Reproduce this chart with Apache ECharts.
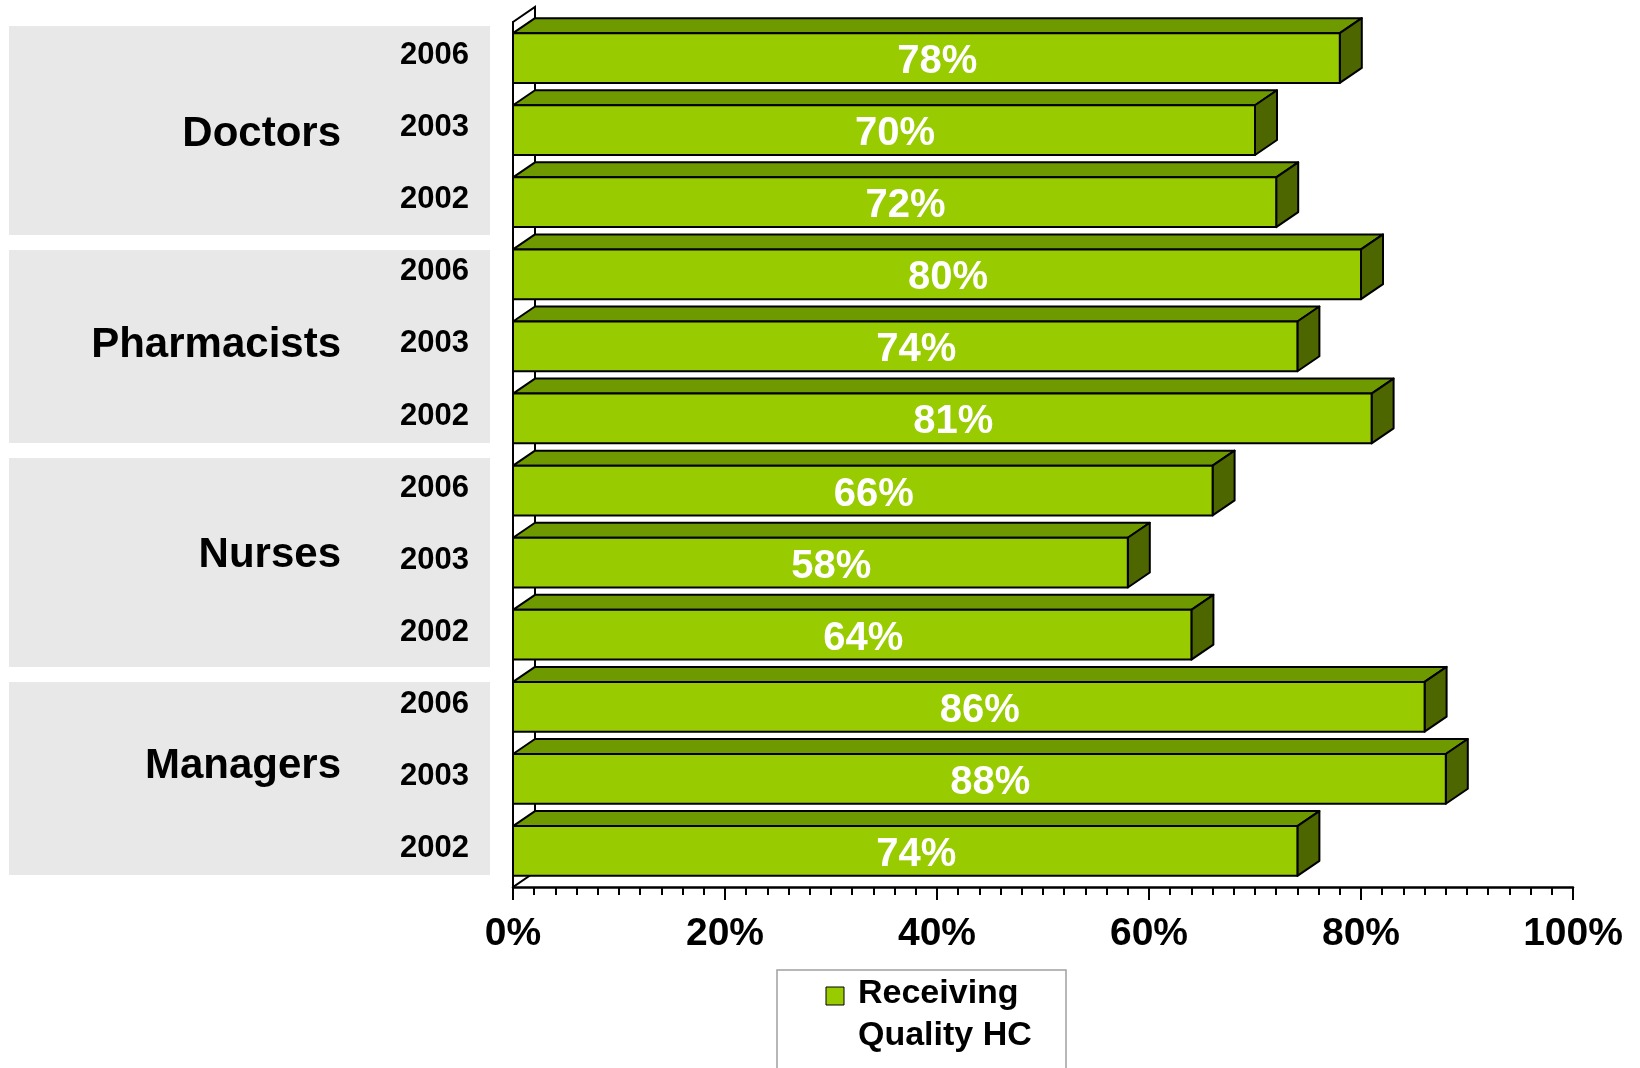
<!DOCTYPE html>
<html>
<head>
<meta charset="utf-8">
<script src="https://cdn.jsdelivr.net/npm/echarts@6/dist/echarts.min.js"></script>
<style>
  html, body { margin: 0; padding: 0; background: #ffffff; }
  #chart { width: 1640px; height: 1068px; }
</style>
</head>
<body>
<div id="chart"></div>
<script>
// Survey groups and years, listed top to bottom
const groups = ['Doctors', 'Pharmacists', 'Nurses', 'Managers'];
const years = ['2006', '2003', '2002'];

// Share receiving quality health care (%), one value per year above
const doctors = [78, 70, 72];
const pharmacists = [80, 74, 81];
const nurses = [66, 58, 64];
const managers = [86, 88, 74];

const seriesName = 'Receiving Quality HC';
const legendText = 'Receiving\nQuality HC';

// Flatten into one row per group/year
const rows = [];
const barData = [];
[doctors, pharmacists, nurses, managers].forEach(function (arr, gi) {
  arr.forEach(function (v, yi) {
    rows.push(groups[gi] + '|' + years[yi]);
    barData.push([v, rows.length - 1]);
  });
});

const FONT = '"Liberation Sans", Arial, Helvetica, sans-serif';
const DX = 22, DY = 15;              // depth offset of the 3D boxes
const FRONT = '#99CC00', TOP = '#6E9A00', SIDE = '#4D6600';

// Bars drawn as extruded boxes: top face, end face, front face, value label
function renderBar(params, api) {
  const val = api.value(0);
  const idx = api.value(1);
  const p0 = api.coord([0, idx]);
  const p1 = api.coord([val, idx]);
  const band = api.size([0, 1])[1];
  const h = band * 0.69;
  const x0 = p0[0], x1 = p1[0];
  const top = p0[1] - h / 2, bot = p0[1] + h / 2;
  const edge = { stroke: '#000', lineWidth: 2, lineJoin: 'round' };
  return {
    type: 'group',
    children: [
      { type: 'polygon', shape: { points: [[x0, top], [x0 + DX, top - DY], [x1 + DX, top - DY], [x1, top]] },
        style: Object.assign({ fill: TOP }, edge) },
      { type: 'polygon', shape: { points: [[x1, top], [x1 + DX, top - DY], [x1 + DX, bot - DY], [x1, bot]] },
        style: Object.assign({ fill: SIDE }, edge) },
      { type: 'rect', shape: { x: x0, y: top, width: x1 - x0, height: h },
        style: Object.assign({ fill: FRONT }, edge) },
      { type: 'text', style: { text: val + '%', x: (x0 + x1 + DX) / 2, y: p0[1] + 4,
          align: 'center', verticalAlign: 'middle', fill: '#ffffff',
          fontSize: 40, fontWeight: 'bold', fontFamily: FONT } }
    ]
  };
}

// Side wall along the category axis
function renderWall(params, api) {
  const cs = params.coordSys;
  const x0 = cs.x, t = cs.y, b = cs.y + cs.height;
  return {
    type: 'polygon',
    shape: { points: [[x0, t], [x0 + DX, t - DY], [x0 + DX, b - DY], [x0, b]] },
    style: { fill: '#ffffff', stroke: '#000', lineWidth: 2 }
  };
}

// Grey panels behind each group's labels
const panels = [[26, 235], [250, 443], [458, 667], [682, 875]];
const groupLabelY = [134, 345, 555, 766];

const graphics = [];
panels.forEach(function (p) {
  graphics.push({ type: 'rect', z: -10, shape: { x: 9, y: p[0], width: 481, height: p[1] - p[0] },
    style: { fill: '#E8E8E8' }, silent: true });
});
groups.forEach(function (g, i) {
  graphics.push({ type: 'text', z: 5, style: { text: g, x: 341, y: groupLabelY[i], align: 'right',
    verticalAlign: 'middle', fill: '#000', fontSize: 42, fontWeight: 'bold', fontFamily: FONT } });
});
// Legend box
graphics.push({ type: 'rect', shape: { x: 777, y: 970, width: 289, height: 120 },
  style: { fill: '#ffffff', stroke: '#A0A0A0', lineWidth: 1.5 } });
graphics.push({ type: 'rect', shape: { x: 826, y: 987, width: 18, height: 18 },
  style: { fill: FRONT, stroke: '#000', lineWidth: 1 } });
graphics.push({ type: 'text', style: { text: legendText, x: 858, y: 973, align: 'left', verticalAlign: 'top',
  lineHeight: 42, fill: '#000', fontSize: 34, fontWeight: 'bold', fontFamily: FONT } });

const chart = echarts.init(document.getElementById('chart'), null, { renderer: 'canvas' });
chart.setOption({
  animation: false,
  backgroundColor: '#ffffff',
  grid: { left: 513, right: 67, top: 22, bottom: 181 },
  xAxis: {
    type: 'value', min: 0, max: 100, interval: 20,
    axisLine: { show: true, lineStyle: { color: '#000', width: 2.5 } },
    axisTick: { show: true, length: 13, lineStyle: { color: '#000', width: 2 } },
    minorTick: { show: true, splitNumber: 10, length: 8, lineStyle: { color: '#000', width: 2 } },
    splitLine: { show: false },
    axisLabel: { formatter: '{value}%', color: '#000', fontSize: 39, fontWeight: 'bold',
      fontFamily: FONT, margin: 28 }
  },
  yAxis: {
    type: 'category', data: rows, inverse: true,
    axisLine: { show: true, lineStyle: { color: '#000', width: 2 } },
    axisTick: { show: false },
    splitLine: { show: false },
    axisLabel: { interval: 0, formatter: function (v) { return '{y|' + v.split('|')[1] + '}'; },
      margin: 44,
      rich: { y: { color: '#000', fontSize: 31, fontWeight: 'bold', fontFamily: FONT,
        padding: [0, 0, 5, 0] } } }
  },
  graphic: graphics,
  series: [
    { type: 'custom', name: 'wall', z: 1, silent: true, renderItem: renderWall,
      data: [[0, 0]], encode: { x: 0, y: 1 } },
    { type: 'custom', name: seriesName, z: 2, renderItem: renderBar,
      data: barData, encode: { x: 0, y: 1 } }
  ]
});
</script>
</body>
</html>
